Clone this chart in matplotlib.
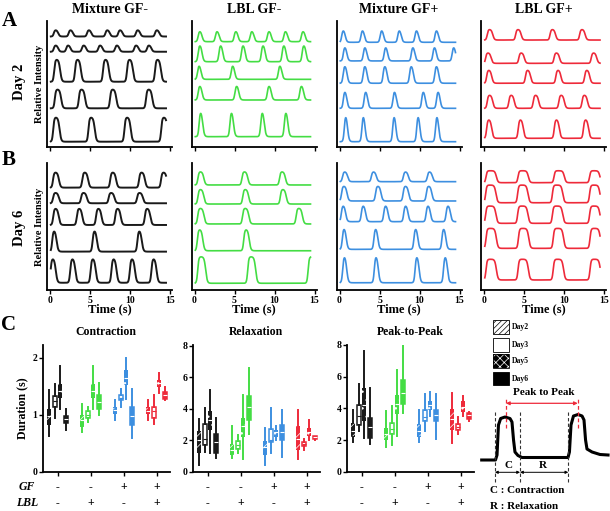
import matplotlib.pyplot as plt
import numpy as np
from matplotlib.patches import Rectangle

plt.rcParams['font.family'] = ['Liberation Serif', 'DejaVu Serif']
plt.rcParams['font.weight'] = 'bold'
plt.rcParams['axes.linewidth'] = 1.3
plt.rcParams['hatch.linewidth'] = 0.5

# ---------------- data ----------------
col_titles = ['Mixture GF-', 'LBL GF-', 'Mixture GF+', 'LBL GF+']
colors = ['#1a1a1a', '#44dd44', '#3d8fe0', '#ee2a3a']

# peak centres (s) of each trace, top trace first
peaks_day2 = [
    [[0.75, 2.6, 4.9, 7.2, 8.8, 11.0, 13.4],
     [0.75, 2.3, 4.25, 6.3, 8.4, 10.8, 12.4],
     [0.9, 3.5, 7.0, 10.0, 13.5],
     [1.0, 4.0, 7.9, 12.4],
     [0.8, 5.2, 9.7, 14.3]],
    [[0.7, 2.85, 5.2, 7.2, 9.35, 11.4, 13.6],
     [0.7, 3.3, 6.1, 8.6, 11.2, 13.7],
     [0.6, 4.8, 10.7],
     [0.7, 5.3, 9.35, 13.4],
     [0.8, 4.65, 8.5, 11.45]],
    [[0.5, 2.9, 5.3, 7.5, 9.65, 12.15],
     [0.7, 3.2, 5.8, 9.2, 11.9, 14.3],
     [0.7, 3.2, 5.7, 9.0, 12.15],
     [0.7, 3.3, 6.9, 10.5, 12.35],
     [0.8, 3.0, 6.85, 9.85, 12.2]],
    [[0.75, 4.3, 8.6, 12.3],
     [0.55, 4.7, 9.1, 13.75],
     [0.65, 5.5, 9.3, 12.9],
     [0.75, 3.45, 6.5, 9.7, 12.6],
     [0.65, 4.6, 9.1, 12.75]],
]
peaks_day6 = [
    [[0.75, 4.4, 7.9, 11.5, 14.25],
     [0.75, 4.25, 7.7, 11.25],
     [0.75, 3.7, 6.1, 8.5, 12.2],
     [0.55, 5.6, 11.2],
     [0.4, 2.85, 5.4, 8.0, 10.3, 13.0]],
    [[0.8, 6.3, 11.0],
     [0.8, 6.4, 11.1],
     [0.8, 6.4, 13.1],
     [0.7, 6.5],
     [0.9, 7.15, 14.7]],
    [[0.7, 4.3, 8.3, 11.3],
     [0.6, 4.85, 8.3, 11.2],
     [0.5, 3.0, 5.8, 8.3, 11.1, 13.6],
     [0.6, 4.55, 9.55, 13.05],
     [0.65, 4.6, 9.7, 13.25]],
    [[0.9, 4.9, 9.4, 13.85],
     [0.85, 4.85, 9.2, 13.85],
     [0.85, 4.85, 9.2, 13.85],
     [0.9, 4.95, 9.3, 13.9],
     [0.9, 4.9, 9.3, 13.9]],
]
width_day2 = [[0.55, 0.55, 0.75, 0.8, 0.8], [0.5, 0.5, 0.45, 0.5, 0.45],
              [0.45, 0.45, 0.5, 0.45, 0.4], [0.7, 0.7, 0.65, 0.7, 0.65]]
width_day6 = [[0.75, 0.75, 0.7, 0.55, 0.65], [0.75, 0.75, 0.8, 0.7, 1.0],
              [0.65, 0.7, 0.55, 0.5, 0.5], [1.3, 1.3, 1.3, 1.3, 1.3]]
base_day2 = [[8.77, 7.56, 5.18, 3.07, 0.42], [8.36, 6.77, 5.37, 3.73, 0.82],
             [8.31, 6.83, 5.06, 3.07, 0.42], [8.49, 6.64, 5.06, 3.07, 0.69]]
amp_day2 = [[0.53, 0.53, 1.78, 1.51, 1.94], [0.87, 1.38, 1.19, 1.19, 2.12],
            [1.03, 1.19, 1.45, 1.45, 2.3], [0.85, 0.84, 1.06, 1.06, 1.51]]
base_day6 = [[8.06, 6.83, 5.12, 3.02, 0.57], [8.27, 6.77, 5.2, 3.09, 0.53],
             [8.53, 7.01, 5.38, 3.2, 0.57], [8.45, 6.87, 5.25, 3.28, 0.79]]
amp_day6 = [[1.21, 0.83, 1.31, 1.71, 1.92], [1.05, 1.16, 1.24, 1.69, 2.09],
            [0.79, 1.18, 1.31, 1.73, 2.18], [0.94, 1.39, 1.36, 1.57, 1.63]]

# box stats per group (GF-/LBL-, GF-/LBL+, GF+/LBL-, GF+/LBL+), days 2,3,5,6
# (whislo, q1, med, q3, whishi)
contraction = [
    [(0.63, 0.81, 0.97, 1.10, 1.43), (0.94, 1.13, 1.24, 1.32, 1.54), (1.10, 1.30, 1.42, 1.54, 1.86), (0.73, 0.85, 0.92, 0.97, 1.10)],
    [(0.69, 0.79, 0.90, 0.99, 1.18), (0.87, 0.94, 1.00, 1.06, 1.14), (1.10, 1.30, 1.42, 1.54, 1.86), (0.99, 1.10, 1.22, 1.34, 1.55)],
    [(0.90, 1.01, 1.08, 1.14, 1.25), (1.13, 1.25, 1.30, 1.35, 1.45), (1.27, 1.52, 1.65, 1.78, 2.00), (0.59, 0.81, 0.97, 1.13, 1.45)],
    [(0.91, 1.01, 1.07, 1.13, 1.25), (0.84, 0.94, 1.06, 1.14, 1.35), (1.38, 1.48, 1.55, 1.60, 1.73), (1.25, 1.28, 1.35, 1.40, 1.48)],
]
relaxation = [
    [(0.42, 1.16, 2.0, 2.59, 3.37), (1.26, 1.68, 2.06, 3.05, 4.04), (1.2, 2.67, 3.3, 3.85, 5.2), (0.84, 1.16, 1.9, 2.42, 3.43)],
    [(0.84, 1.05, 1.4, 1.75, 2.88), (1.2, 1.47, 1.7, 1.96, 2.32), (0.78, 2.21, 2.9, 3.43, 4.9), (2.38, 3.26, 4.1, 4.78, 6.59)],
    [(0.42, 1.05, 1.55, 1.96, 2.78), (1.2, 1.89, 2.04, 2.74, 4.04), (2.0, 2.21, 2.5, 2.63, 2.88), (0.95, 2.0, 2.5, 2.95, 3.9)],
    [(0.78, 1.41, 2.1, 2.88, 3.94), (1.37, 1.62, 1.78, 1.89, 2.1), (2.0, 2.25, 2.55, 2.8, 3.26), (2.04, 2.08, 2.18, 2.25, 2.3)],
]
peak2peak = [
    [(1.86, 2.18, 2.6, 3.07, 3.91), (2.6, 2.92, 3.5, 4.19, 5.56), (2.14, 3.19, 4.2, 5.3, 7.63), (1.75, 2.14, 2.8, 3.4, 5.3)],
    [(1.54, 2.0, 2.4, 2.75, 3.83), (1.71, 2.39, 2.7, 3.07, 4.12), (2.28, 3.66, 4.3, 4.86, 6.4), (3.7, 4.29, 5.0, 5.81, 8.0)],
    [(1.86, 2.18, 2.6, 3.02, 3.91), (2.56, 3.23, 3.45, 3.87, 4.88), (3.49, 3.91, 4.2, 4.44, 5.03), (2.07, 3.19, 3.55, 3.87, 4.93)],
    [(1.8, 2.64, 3.3, 3.97, 4.97), (2.35, 2.64, 2.85, 3.02, 3.45), (3.49, 3.76, 4.1, 4.44, 4.76), (3.23, 3.34, 3.55, 3.7, 3.76)],
]
gf_signs = ['-', '-', '+', '+']
lbl_signs = ['-', '+', '-', '+']
day_labels = ['Day2', 'Day3', 'Day5', 'Day6']

# schematic trace (arbitrary units)
schem_x = [0.13, 1.19, 1.31, 1.42, 1.59, 1.92, 2.31, 2.46, 2.58, 2.69, 2.92, 3.23, 6.77, 6.88,
           7.0, 7.19, 7.54, 7.85, 8.0, 8.12, 8.23, 8.62, 9.23, 9.85]
schem_y = [1.0, 1.0, 1.5, 4.5, 5.15, 5.3, 5.15, 4.8, 3.0, 1.8, 1.45, 1.25, 1.25, 1.8,
           4.5, 5.4, 5.55, 5.4, 5.0, 3.0, 2.1, 1.8, 1.55, 1.5]


def trace(t, centres, width, rise=0.07, fall=0.1):
    y = np.zeros_like(t)
    for c in centres:
        y += 1 / (1 + np.exp(-(t - (c - width / 2)) / rise)) - 1 / (1 + np.exp(-(t - (c + width / 2)) / fall))
    return y


W, H = 610, 511
fig = plt.figure(figsize=(6.1, 5.11), dpi=100)

col_left = [47, 191.5, 336.5, 481]
t = np.linspace(0.1, 14.5, 1500)

for row, (top, bottom) in enumerate([(21, 147), (163, 290)]):
    peaks = [peaks_day2, peaks_day6][row]
    widths = [width_day2, width_day6][row]
    bases = [base_day2, base_day6][row]
    amps = [amp_day2, amp_day6][row]
    for c in range(4):
        ax = fig.add_axes([col_left[c] / W, 1 - bottom / H, 125 / W, (bottom - top) / H])
        for k in range(5):
            y = bases[c][k] + amps[c][k] * trace(t, peaks[c][k], widths[c][k])
            ax.plot(t, y, color=colors[c], lw=1.4 if c == 0 else 1.2)
        ax.set_xlim(-0.375, 15.25)
        ax.set_ylim(0, 10)
        ax.spines[['top', 'right']].set_visible(False)
        ax.set_yticks([])
        ax.set_xticks([0, 5, 10, 15])
        ax.tick_params(axis='x', direction='out', length=3, width=1, labelsize=7, pad=1)
        if row == 0:
            ax.set_xticklabels([])
            ax.set_title(col_titles[c], fontsize=10, fontweight='bold', pad=6)
        else:
            ax.set_xlabel('Time (s)', fontsize=9, fontweight='bold', labelpad=-1)
        if c == 0:
            ax.set_ylabel('Relative Intensity', fontsize=7.5, fontweight='bold', labelpad=2)

fig.text(9 / W, 1 - 21 / H, 'A', fontsize=15, fontweight='bold', ha='center', va='center')
fig.text(9 / W, 1 - 160 / H, 'B', fontsize=15, fontweight='bold', ha='center', va='center')
fig.text(9 / W, 1 - 325 / H, 'C', fontsize=15, fontweight='bold', ha='center', va='center')
fig.text(19 / W, 1 - 82 / H, 'Day 2', fontsize=10.5, fontweight='bold', rotation=90, ha='center', va='center')
fig.text(19 / W, 1 - 228 / H, 'Day 6', fontsize=10.5, fontweight='bold', rotation=90, ha='center', va='center')

# ---------------- box plots ----------------
box_step, box_w = 0.17, 0.13
box_axes = [(42.7, contraction, 'Contraction', (0, 2.22), [0, 1, 2]),
            (192.7, relaxation, 'Relaxation', (0, 8.05), [0, 2, 4, 6, 8]),
            (346.7, peak2peak, 'Peak-to-Peak', (0, 8.0), [0, 2, 4, 6, 8])]
for left, stats, title, ylim, yt in box_axes:
    ax = fig.add_axes([left / W, 1 - 471.7 / H, 127 / W, 126.7 / H])
    for g in range(4):
        col = colors[g]
        for d in range(4):
            s = stats[g][d]
            st = dict(whislo=s[0], q1=s[1], med=s[2], q3=s[3], whishi=s[4])
            x = g + 1 + (d - 1.5) * box_step
            filled = d != 1
            res = ax.bxp([st], positions=[x], widths=box_w, patch_artist=True,
                         showfliers=False, showcaps=False,
                         boxprops=dict(facecolor=col if filled else 'white', edgecolor=col, linewidth=1.1),
                         whiskerprops=dict(color=col, linewidth=1.4),
                         medianprops=dict(color='white' if filled else col, linewidth=0.8))
            box = res['boxes'][0]
            if d in (0, 2):
                box.set_edgecolor('white')
                box.set_linewidth(0)
                box.set_hatch('///' if d == 0 else '..')
    ax.set_xlim(0.55, 4.4)
    ax.set_ylim(*ylim)
    ax.set_yticks(yt)
    ax.set_xticks([1, 2, 3, 4])
    ax.set_xticklabels([])
    ax.spines[['top', 'right']].set_visible(False)
    ax.tick_params(direction='out', length=3, width=1, labelsize=7, pad=1)
    ax.set_title(title, fontsize=8.5, fontweight='bold', pad=7)
    for g in range(4):
        ax.text(g + 1, -0.121, gf_signs[g], transform=ax.get_xaxis_transform(),
                ha='center', va='center', fontsize=8.5)
        ax.text(g + 1, -0.247, lbl_signs[g], transform=ax.get_xaxis_transform(),
                ha='center', va='center', fontsize=8.5)
    if title == 'Contraction':
        ax.set_ylabel('Duration (s)', fontsize=8.5, fontweight='bold', labelpad=3)

fig.text(27 / W, 1 - 487 / H, 'GF', fontsize=8.5, fontweight='bold', style='italic', ha='center', va='center')
fig.text(27 / W, 1 - 503 / H, 'LBL', fontsize=8.5, fontweight='bold', style='italic', ha='center', va='center')

# ---------------- legend + schematic ----------------
sx = fig.add_axes([480 / W, 0, 130 / W, 196 / H])
sx.set_xlim(0, 10)
sx.set_ylim(-4.1, 15.5)
sx.axis('off')

leg_top = [15.0, 13.17, 11.57, 9.83]
for d in range(4):
    y0 = leg_top[d] - 1.36
    if d == 0:
        sx.add_patch(Rectangle((1.02, y0), 1.23, 1.36, facecolor='white', edgecolor='black', hatch='//////', lw=0.6))
    elif d == 1:
        sx.add_patch(Rectangle((1.02, y0), 1.23, 1.36, facecolor='white', edgecolor='black', lw=0.6))
    elif d == 2:
        sx.add_patch(Rectangle((1.02, y0), 1.23, 1.36, facecolor='black', edgecolor='white', hatch='xxxx', lw=0))
        sx.add_patch(Rectangle((1.02, y0), 1.23, 1.36, facecolor='none', edgecolor='black', lw=0.6))
    else:
        sx.add_patch(Rectangle((1.02, y0), 1.23, 1.36, facecolor='black', edgecolor='black', lw=0.6))
    sx.text(2.46, leg_top[d] - 0.68, day_labels[d], fontsize=5.5, fontweight='bold', va='center', ha='left')

sx.plot(schem_x, schem_y, color='black', lw=2.2, solid_joinstyle='round')
for xv in [1.15, 3.08, 6.79]:
    sx.plot([xv, xv], [-1.17, 6.0], color='#333333', lw=0.8, ls=(0, (3, 2)))
for xv in [2.0, 7.52]:
    sx.plot([xv, xv], [4.2, 7.2], color='#ee2a3a', lw=0.9, ls=(0, (3, 2)))
sx.annotate('', xy=(2.0, 6.67), xytext=(7.52, 6.67),
            arrowprops=dict(arrowstyle='<|-|>', color='#ee2a3a', lw=0.9, mutation_scale=5, shrinkA=0, shrinkB=0))
sx.text(4.87, 7.35, 'Peak to Peak', fontsize=8, fontweight='bold', ha='center', va='bottom')
sx.annotate('', xy=(1.15, -0.23), xytext=(3.08, -0.23),
            arrowprops=dict(arrowstyle='<|-|>', color='black', lw=0.7, mutation_scale=4, shrinkA=0, shrinkB=0))
sx.annotate('', xy=(3.08, -0.23), xytext=(6.79, -0.23),
            arrowprops=dict(arrowstyle='<|-|>', color='black', lw=0.7, mutation_scale=4, shrinkA=0, shrinkB=0))
sx.text(2.18, 0.45, 'C', fontsize=8, fontweight='bold', ha='center', va='center')
sx.text(4.87, 0.45, 'R', fontsize=8, fontweight='bold', ha='center', va='center')
sx.text(0.77, -2.07, 'C : Contraction', fontsize=8, fontweight='bold', ha='left', va='center')
sx.text(0.77, -3.67, 'R : Relaxation', fontsize=8, fontweight='bold', ha='left', va='center')

fig.savefig('out.png', dpi=100)
